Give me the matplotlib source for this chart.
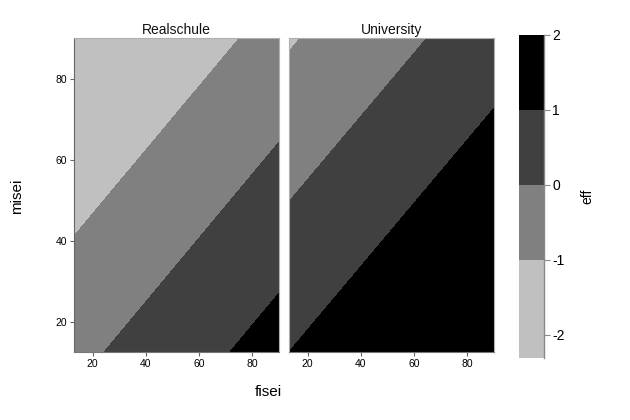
import numpy as np
import matplotlib
matplotlib.use("Agg")
import matplotlib.pyplot as plt
from matplotlib.colors import ListedColormap, BoundaryNorm
from matplotlib.cm import ScalarMappable

plt.rcParams.update({
    "font.family": ["Liberation Sans", "DejaVu Sans"],
    "axes.unicode_minus": False,
})

# grid corners (fisei, misei) and eff at those corners
fisei = [13, 90]
misei = [12.6, 90]
eff_real = [[-0.24, 1.39],    # misei = 12.6 row
            [-2.30, -0.69]]   # misei = 90 row
eff_univ = [[1.00, 2.63],
            [-1.09, 0.53]]

panels = ["Realschule", "University"]
levels = [-2.31, -1, 0, 1, 2]
gray_cols = ["#c0c0c0", "#808080", "#404040", "#000000"]
xticks = [20, 40, 60, 80]
yticks = [20, 40, 60, 80]
cbar_ticks = [-2, -1, 0, 1, 2]

fig = plt.figure(figsize=(6.3, 4.2), dpi=100)
ax1 = fig.add_axes([74/630, 68/420, 205/630, 314/420])
ax2 = fig.add_axes([289/630, 68/420, 205/630, 314/420])
cax = fig.add_axes([519/630, 62/420, 25/630, 323/420])

cmap = ListedColormap(gray_cols)
fill_levels = [-10] + levels[1:-1] + [10]

X, Y = np.meshgrid(fisei, misei)
for ax, z, name in zip([ax1, ax2], [eff_real, eff_univ], panels):
    ax.contourf(X, Y, np.array(z), levels=fill_levels, colors=gray_cols)
    ax.set_xlim(fisei[0], fisei[1])
    ax.set_ylim(misei[0], misei[1])
    ax.set_xticks(xticks)
    ax.set_yticks(yticks)
    ax.set_title(name, fontsize=10, pad=3, color="#111111")
    ax.tick_params(direction="out", length=3, width=0.8, color="#666666",
                   labelsize=7.5, pad=2)
    for s in ax.spines.values():
        s.set_color("#b0b0b0")
        s.set_linewidth(0.8)
    ax.spines["bottom"].set_color("#777777")

ax1.spines["left"].set_color("#666666")
ax2.tick_params(axis="y", left=False, labelleft=False)

norm = BoundaryNorm(levels, cmap.N)
cb = fig.colorbar(ScalarMappable(norm=norm, cmap=cmap), cax=cax,
                  ticks=cbar_ticks, spacing="proportional")
cb.outline.set_visible(False)
cb.minorticks_off()
cax.axvline(1, color="#888888", lw=1, clip_on=False)
cax.tick_params(length=4, width=0.8, color="#888888", labelsize=10, pad=2)
cb.set_label("eff", fontsize=10, labelpad=11)

fig.text(268/630, 1 - 392/420, "fisei", fontsize=11, ha="center", va="center")
fig.text(17/630, 1 - 196/420, "misei", fontsize=11, ha="center", va="center",
         rotation=90)

fig.savefig("out.png", dpi=100)
